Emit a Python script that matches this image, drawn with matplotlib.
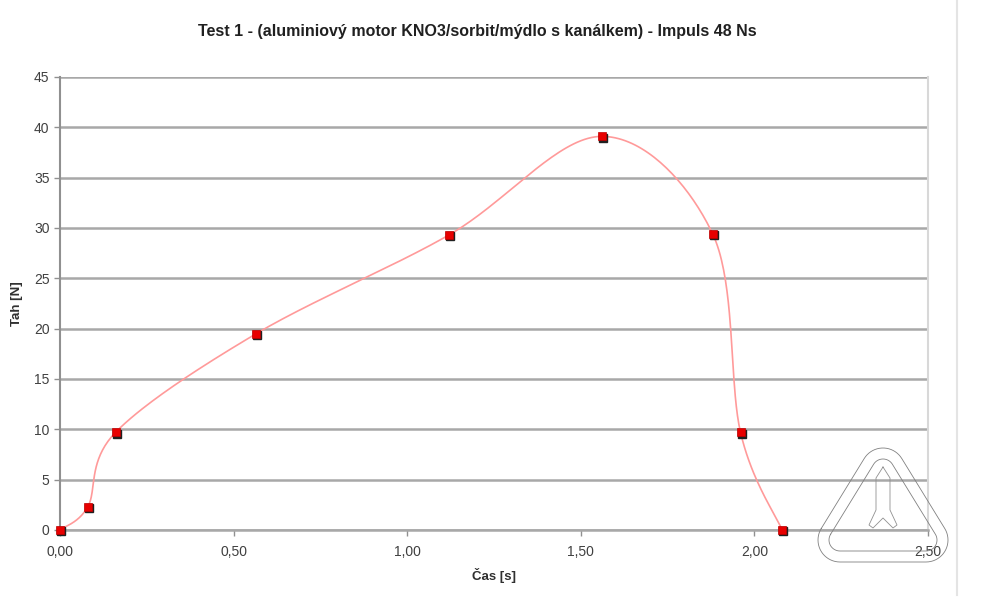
import numpy as np
import matplotlib
matplotlib.use("Agg")
import matplotlib.pyplot as plt
from matplotlib.ticker import FuncFormatter
from matplotlib.transforms import ScaledTranslation, Affine2D

plt.rcParams["font.family"] = ["Liberation Sans", "DejaVu Sans"]

# data
cas = [0.0, 0.08, 0.16, 0.565, 1.12, 1.56, 1.88, 1.96, 2.08]
tah = [0.0, 2.3, 9.7, 19.5, 29.3, 39.1, 29.4, 9.7, 0.0]

title = "Test 1 - (aluminiový motor KNO3/sorbit/mýdlo s kanálkem) - Impuls 48 Ns"
xlabel = "Čas [s]"
ylabel = "Tah [N]"


def excel_smooth(x, y, n=40):
    # bezier smoothing the way spreadsheet "smoothed line" charts do it
    p = np.column_stack([x, y])
    pts = np.vstack([p[0], p, p[-1]])
    out = []
    t = np.linspace(0, 1, n)[:, None]
    for i in range(1, len(pts) - 2):
        p0, p3 = pts[i], pts[i + 1]
        c1 = p0 + (pts[i + 1] - pts[i - 1]) / 6
        c2 = p3 - (pts[i + 2] - pts[i]) / 6
        seg = ((1 - t) ** 3) * p0 + 3 * ((1 - t) ** 2) * t * c1 + 3 * (1 - t) * t ** 2 * c2 + t ** 3 * p3
        out.append(seg)
    out = np.vstack(out)
    return out[:, 0], out[:, 1]


def rounded_triangle(verts, r, n=20):
    # outline of a triangle grown by radius r (ccw vertices, pixel coords, y up)
    v = np.array(verts, float)
    k = len(v)
    pts = []
    for i in range(k):
        d_in = v[i] - v[i - 1]
        d_out = v[(i + 1) % k] - v[i]
        a1 = np.arctan2(-d_in[0], d_in[1])
        a2 = np.arctan2(-d_out[0], d_out[1])
        while a2 < a1:
            a2 += 2 * np.pi
        a = np.linspace(a1, a2, n)
        pts.append(np.column_stack([v[i, 0] + r * np.cos(a), v[i, 1] + r * np.sin(a)]))
    pts = np.vstack(pts + [pts[0][:1]])
    return pts[:, 0], pts[:, 1]


fig = plt.figure(figsize=(10, 6.13), dpi=100)
ax = fig.add_axes([0.06, 0.1354, 0.868, 0.739])

sx, sy = excel_smooth(cas, tah)
ax.plot(sx, sy, color="#ff9a9a", lw=1.2, zorder=3)
# marker shadow + marker
ax.plot(cas, tah, ls="none", marker="s", ms=5.5, color="#202020",
        transform=ax.transData + ScaledTranslation(1.3 / 100, -1.3 / 100, fig.dpi_scale_trans),
        zorder=4, clip_on=False)
ax.plot(cas, tah, ls="none", marker="s", ms=5.5, color="#e80000", mec="#c00000", mew=0.5,
        zorder=5, clip_on=False)

ax.set_xlim(0, 2.5)
ax.set_ylim(0, 45)
ax.set_xticks(np.arange(0, 2.51, 0.5))
ax.set_yticks(np.arange(0, 46, 5))
ax.xaxis.set_major_formatter(FuncFormatter(lambda v, p: f"{v:.2f}".replace(".", ",")))
ax.grid(axis="y", color="#a8a8a8", lw=1.8, zorder=1)
ax.set_axisbelow(True)

ax.spines["top"].set_visible(False)
ax.spines["left"].set_color("#909090")
ax.spines["left"].set_linewidth(1.5)
ax.spines["bottom"].set_color("#a8a8a8")
ax.spines["bottom"].set_linewidth(1.8)
ax.spines["right"].set_color("#d8d8d8")
ax.spines["right"].set_linewidth(1.5)
ax.tick_params(axis="both", colors="#909090", length=4, width=1, labelsize=10, labelcolor="#404040")
ax.tick_params(axis="x", pad=7)

ax.set_xlabel(xlabel, fontsize=9.5, fontweight="bold", color="#303030", labelpad=6)
ax.set_ylabel(ylabel, fontsize=9.5, fontweight="bold", color="#303030", labelpad=8)
fig.text(0.477, 0.948, title, ha="center", va="center", fontsize=11.5, fontweight="bold", color="#202020")

# chart frame line on the right
fig.add_artist(plt.Line2D([0.957, 0.957], [0.03, 1.0], color="#e4e4e4", lw=1.5))

# watermark logo (rounded triangles) in pixel coordinates
px = Affine2D().scale(1 / 1000, 1 / 613) + fig.transFigure
core = [(840, 613 - 540), (926, 613 - 540), (883, 613 - 470)]
for r in (22, 11):
    lx, ly = rounded_triangle(core, r)
    fig.add_artist(plt.Line2D(lx, ly, color="#808080", lw=0.6, transform=px, zorder=10))
# rocket outline inside
rx = [883, 876, 876, 869, 873, 883, 893, 897, 890, 890, 883]
ry = [467, 478, 510, 525, 528, 518, 528, 525, 510, 478, 467]
fig.add_artist(plt.Line2D(rx, [613 - y for y in ry], color="#909090", lw=0.6, transform=px, zorder=10))

fig.savefig("out.png", dpi=100)
